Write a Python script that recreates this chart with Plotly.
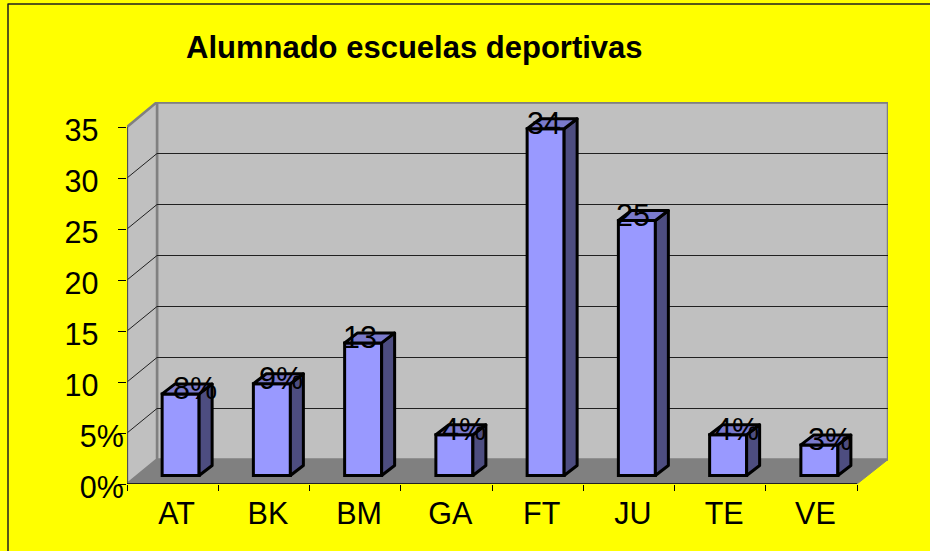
import plotly.graph_objects as go

title = "Alumnado escuelas deportivas"
categories = ["AT", "BK", "BM", "GA", "FT", "JU", "TE", "VE"]
values = [8, 9, 13, 4, 34, 25, 4, 3]
bar_labels = ["8%", "9%", "13", "4%", "34", "25", "4%", "3%"]
label_shift_px = [14, 9, -3, 10, -2, -4, 9, 11]
y_ticks = [0, 5, 10, 15, 20, 25, 30, 35]
y_tick_labels = ["0%", "5%", "10", "15", "20", "25", "30", "35"]

# Plot frame in window pixels
W, H = 930, 551
L, R, T, B = 127, 888, 102, 484
PAD = "\u00a0\u00a0\u00a0"
FS = 30.5

cat_px = 91.25
unit_px = 10.2
x_lo = -0.5
x_hi = x_lo + (R - L) / cat_px
y_hi = (B - T) / unit_px
wall_dx = 30 / cat_px
wall_dy = 24.5 / unit_px
floor_right = x_lo + len(categories)
bar_w = 37 / cat_px
bar_shift = 8 / cat_px
bar_base = 8.5 / unit_px
bar_dx = 13 / cat_px
bar_dy = 10 / unit_px
FRONT, TOP, SIDE = "#9999FF", "#7A7ACC", "#4D4D80"
WALL, FLOOR = "#C0C0C0", "#808080"


def poly(points):
    return "M " + " L ".join(f"{x},{y}" for x, y in points) + " Z"


shapes = []


def add(points, fill, line, width, layer):
    shapes.append(dict(type="path", xref="x", yref="y", path=poly(points), fillcolor=fill,
                       line=dict(color=line, width=width), layer=layer))


# walls and floor
top_y = y_ticks[-1]
add([(x_lo + wall_dx, wall_dy), (x_hi, wall_dy), (x_hi, y_hi), (x_lo + wall_dx, y_hi)], WALL, FLOOR, 2.5, "below")
add([(x_lo, 0), (x_lo + wall_dx, wall_dy), (x_lo + wall_dx, y_hi), (x_lo, top_y)], WALL, FLOOR, 2.5, "below")
add([(x_lo, 0), (x_lo + wall_dx, wall_dy), (x_hi, wall_dy), (floor_right, 0)], FLOOR, FLOOR, 1, "below")
# gridlines
for v in y_ticks[1:-1]:
    shapes.append(dict(type="path", xref="x", yref="y", layer="below",
                       path=f"M {x_lo},{v} L {x_lo + wall_dx},{v + wall_dy} L {x_hi},{v + wall_dy}",
                       line=dict(color="#202020", width=1)))
shapes.append(dict(type="path", xref="x", yref="y", layer="below",
                   path=f"M {x_lo + wall_dx},{top_y + wall_dy} L {x_hi},{top_y + wall_dy}",
                   line=dict(color=FLOOR, width=2.5)))
# axis lines
shapes.append(dict(type="line", xref="x", yref="y", x0=x_lo, x1=x_lo, y0=0, y1=top_y, line=dict(color="#404040", width=1.5)))
shapes.append(dict(type="line", xref="x", yref="y", x0=x_lo, x1=floor_right, y0=0, y1=0, line=dict(color="#000000", width=1.5)))
# bar side and top faces
for i, v in enumerate(values):
    x0 = i + bar_shift - bar_w / 2
    x1 = i + bar_shift + bar_w / 2
    t = bar_base + v
    add([(x1, bar_base), (x1 + bar_dx, bar_base + bar_dy), (x1 + bar_dx, t + bar_dy), (x1, t)], SIDE, "#000000", 3, "above")
    add([(x0, t), (x0 + bar_dx, t + bar_dy), (x1 + bar_dx, t + bar_dy), (x1, t)], TOP, "#000000", 3, "above")
# outer frame, open past the window's right and bottom edges
shapes.append(dict(type="rect", xref="paper", yref="paper", layer="above",
                   x0=(8 - L) / (R - L), x1=(W + 10 - L) / (R - L),
                   y0=(B - (H + 10)) / (B - T), y1=(B - 4) / (B - T),
                   line=dict(color="#202020", width=1.5), fillcolor="rgba(0,0,0,0)"))

annotations = [
    dict(x=i + bar_shift, y=bar_base + v, xref="x", yref="y", text=lab, showarrow=False,
         xshift=dx, yshift=6, xanchor="center", yanchor="middle",
         font=dict(family="Liberation Sans", size=FS, color="#000000"))
    for i, (v, lab, dx) in enumerate(zip(values, bar_labels, label_shift_px))
]

fig = go.Figure(go.Bar(
    x=categories, y=values, base=bar_base, width=bar_w, offset=bar_shift - bar_w / 2,
    marker=dict(color=FRONT, line=dict(color="#000000", width=3)),
    hoverinfo="x+y", showlegend=False,
))

fig.update_layout(
    width=W, height=H, autosize=False,
    margin=dict(l=L, r=W - R, t=T, b=H - B, pad=0),
    paper_bgcolor="#FFFF00", plot_bgcolor="#FFFF00",
    font=dict(family="Liberation Sans", size=FS, color="#000000"),
    title=dict(text=f"<b>{title}</b>", x=186 / W, xanchor="left", y=1 - 47 / H, yanchor="middle",
               font=dict(family="Liberation Sans", size=31, color="#000000")),
    shapes=shapes, annotations=annotations, showlegend=False,
    xaxis=dict(type="category", categoryorder="array", categoryarray=categories,
               range=[x_lo, x_hi], tickson="boundaries", ticks="outside", ticklen=6, tickwidth=1,
               tickcolor="#000000", showgrid=False, zeroline=False, showline=False,
               ticklabelshift=4, ticklabelstandoff=8, tickfont=dict(size=FS)),
    yaxis=dict(range=[0, y_hi], tickvals=y_ticks,
               ticktext=[t if "%" in t else t + PAD for t in y_tick_labels],
               ticks="outside", ticklen=8, tickwidth=1, tickcolor="#000000",
               showgrid=False, zeroline=False, showline=False,
               ticklabelstandoff=-12, ticklabelshift=3, tickfont=dict(size=FS)),
)
fig.write_html(
    "out.html",
    config={"displayModeBar": False},
    post_script=(
        "document.body.style.margin='0';document.body.style.background='#FFFF00';"
        "document.querySelectorAll('.shapelayer path').forEach(function(p){p.style.strokeLinejoin='round';});"
    ),
)
